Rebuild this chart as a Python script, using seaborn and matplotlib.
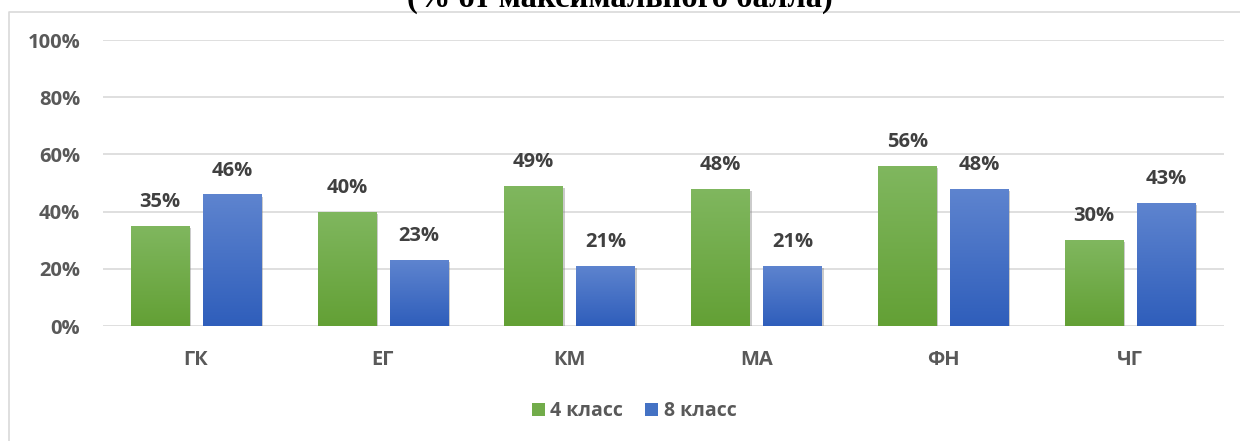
import numpy as np
import pandas as pd
import matplotlib
matplotlib.use("Agg")
import matplotlib.pyplot as plt
import seaborn as sns
from matplotlib.colors import LinearSegmentedColormap
from matplotlib.lines import Line2D
from matplotlib.patches import Patch
import matplotlib.patheffects as pe

categories = ["ГК", "ЕГ", "КМ", "МА", "ФН", "ЧГ"]
grade4 = [35, 40, 49, 48, 56, 30]
grade8 = [46, 23, 21, 21, 48, 43]
series_names = ["4 класс", "8 класс"]
title_text = "(% от максимального балла)"

sns.set_theme(style="white")
plt.rcParams["font.family"] = ["Open Sans", "DejaVu Sans"]

df = pd.DataFrame({
    "cat": categories * 2,
    "value": grade4 + grade8,
    "series": [series_names[0]] * len(categories) + [series_names[1]] * len(categories),
})

green_top, green_bot = "#80b75f", "#63a035"
blue_top, blue_bot = "#5e84cf", "#2f5ebb"
palette = {series_names[0]: "#72ac4a", series_names[1]: "#4472c4"}

W, H = 1240, 441
fig = plt.figure(figsize=(W / 100, H / 100), dpi=100)
ax = fig.add_axes([102.5 / W, 1 - 326 / H, (1223.5 - 102.5) / W, (326 - 40) / H])

sns.barplot(data=df, x="cat", y="value", hue="series", palette=palette,
            width=0.77, gap=0.19, ax=ax, legend=False, zorder=3,
            edgecolor="none", linewidth=0)

grid_c = "#d9d9d9"
ax.set_ylim(0, 100)
ax.set_xlim(-0.5, len(categories) - 0.5)
ax.set_yticks(range(0, 101, 20))
ax.yaxis.set_major_formatter(matplotlib.ticker.FuncFormatter(lambda v, _: f"{v:.0f}%"))
ax.grid(axis="y", color=grid_c, linewidth=1.2, zorder=0)
ax.set_axisbelow(True)
for s in ax.spines.values():
    s.set_visible(False)
ax.set_xlabel("")
ax.set_ylabel("")
ax.tick_params(axis="both", length=0, labelsize=14.5, labelcolor="#595959")
ax.tick_params(axis="x", pad=17)
ax.tick_params(axis="y", pad=16)
for lbl in ax.get_xticklabels() + ax.get_yticklabels():
    lbl.set_fontweight("bold")

# vertical gradient fills clipped to each bar, with a soft drop shadow
grads = [(green_bot, green_top), (blue_bot, blue_top)]
ramp = np.linspace(0, 1, 256).reshape(-1, 1)
for container, (c0, c1) in zip(ax.containers, grads):
    cmap = LinearSegmentedColormap.from_list("bar", [c0, c1])
    for bar in container:
        bar.set_path_effects([pe.SimplePatchShadow(offset=(1.5, -1.5), shadow_rgbFace="#7f7f7f", alpha=0.4), pe.Normal()])
        x0, y0 = bar.get_x(), bar.get_y()
        w, h = bar.get_width(), bar.get_height()
        im = ax.imshow(ramp, extent=[x0, x0 + w, y0, y0 + h], origin="lower",
                       cmap=cmap, aspect="auto", zorder=4, interpolation="bicubic")
        im.set_clip_path(bar)
    ax.bar_label(container, fmt="{:.0f}%", padding=10, fontsize=14.5,
                 fontweight="bold", color="#404040")

ax.set_ylim(0, 100)
ax.set_xlim(-0.5, len(categories) - 0.5)

handles = [Patch(facecolor=palette[n], edgecolor="none") for n in series_names]
fig.legend(handles, series_names, loc="center", bbox_to_anchor=(634 / W, 1 - 411 / H),
           ncol=2, frameon=False, handlelength=0.67, handleheight=0.67,
           handletextpad=0.3, columnspacing=1.1,
           prop={"weight": "bold", "size": 14, "family": ["Open Sans", "DejaVu Sans"]},
           labelcolor="#595959")

# chart frame (top and left edges visible)
fx = 8.5 / W
fy = 1 - 11.5 / H
fig.add_artist(Line2D([fx, fx, 1.0], [0.0, fy, fy], transform=fig.transFigure,
                      color=grid_c, linewidth=1.2))

fig.text(0.5, 1 - 7 / H, title_text, ha="center", va="baseline",
         fontsize=23.5, fontweight="bold", family=["Liberation Serif", "DejaVu Serif"],
         color="black")

fig.savefig("out.png", dpi=100, facecolor="white")
